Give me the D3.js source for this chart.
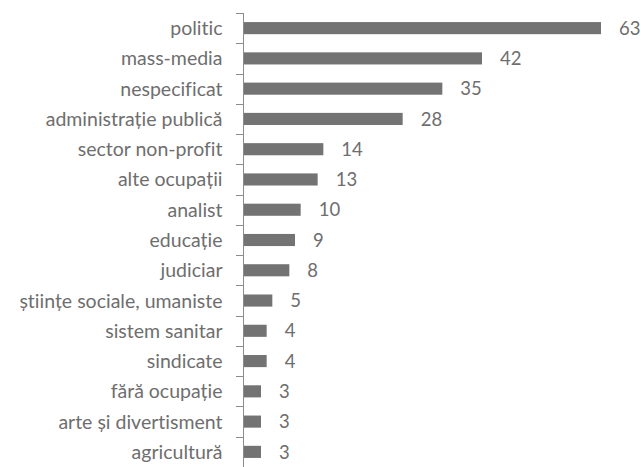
<!DOCTYPE html>
<html>
<head>
<meta charset="utf-8">
<script src="https://cdn.jsdelivr.net/npm/d3@7"></script>
<style>
  body { margin: 0; background: #fff; }
  text { font-family: Lato, "Open Sans", sans-serif; font-variant-ligatures: none; }
</style>
</head>
<body>
<div id="chart"></div>
<script>
// occupation categories, top to bottom
const categories = [
    "politic", "mass-media", "nespecificat", "administrație publică",
    "sector non-profit", "alte ocupații", "analist", "educație", "judiciar",
    "științe sociale, umaniste", "sistem sanitar", "sindicate",
    "fără ocupație", "arte și divertisment", "agricultură"
];
const values = [63, 42, 35, 28, 14, 13, 10, 9, 8, 5, 4, 4, 3, 3, 3];

const width = 641, height = 467;
const plotLeft = 244, plotTop = 13, plotBottom = 467;

let svg = d3.select("#chart").append("svg")
    .attr("width", width)
    .attr("height", height);

let x = d3.scaleLinear().domain([0, 63]).range([plotLeft, 601]);
let y = d3.scaleBand().domain(categories).range([plotTop, plotBottom]).paddingInner(0.6).paddingOuter(0.3);

// category axis
let yAxis = d3.axisLeft(y).tickSize(0).tickPadding(21);
let axisG = svg.append("g")
    .attr("transform", "translate(" + (plotLeft - 0.5) + ",0)")
    .call(yAxis);
axisG.select(".domain").remove();
axisG.selectAll("text")
    .attr("fill", "#6e6e6e")
    .attr("dy", "0.36em")
    .style("font-size", "19.5px");

// axis line with ticks between bands
let step = y.step();
svg.append("line")
    .attr("x1", plotLeft - 0.5).attr("x2", plotLeft - 0.5)
    .attr("y1", plotTop).attr("y2", plotBottom)
    .attr("stroke", "#8c8c8c").attr("stroke-width", 1);
let tickYs = d3.range(categories.length).map(i => plotTop + i * step);
svg.selectAll(".tick-mark")
    .data(tickYs)
    .enter()
    .append("line")
    .attr("class", "tick-mark")
    .attr("x1", plotLeft - 8).attr("x2", plotLeft)
    .attr("y1", d => Math.round(d) + 0.5).attr("y2", d => Math.round(d) + 0.5)
    .attr("stroke", "#8c8c8c");

// bars
svg.selectAll(".bar")
    .data(values)
    .enter()
    .append("rect")
    .attr("class", "bar")
    .attr("x", x(0))
    .attr("y", (d, i) => y(categories[i]))
    .attr("width", d => x(d) - x(0))
    .attr("height", y.bandwidth())
    .attr("fill", "#737373");

// value labels
svg.selectAll(".val")
    .data(values)
    .enter()
    .append("text")
    .attr("class", "val")
    .attr("x", d => x(d) + 18)
    .attr("y", (d, i) => y(categories[i]) + y.bandwidth() / 2)
    .attr("dy", "0.36em")
    .attr("fill", "#6e6e6e")
    .style("font-size", "18.5px")
    .text(d => d);
</script>
</body>
</html>
